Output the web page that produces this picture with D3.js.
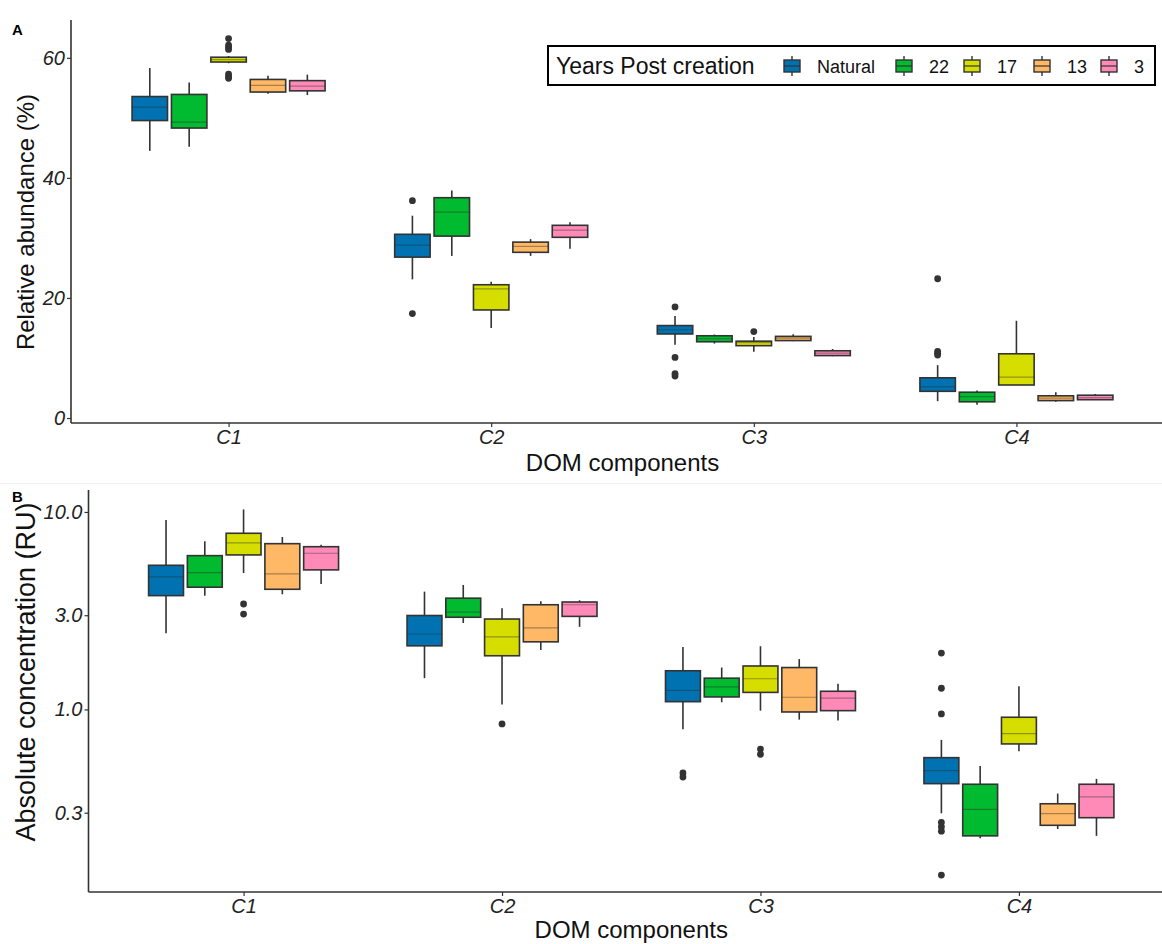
<!DOCTYPE html>
<html>
<head>
<meta charset="utf-8">
<script src="https://cdn.jsdelivr.net/npm/d3@7"></script>
<style>
  body { margin: 0; background: #fff; }
  svg { display: block; }
  text { font-family: "Liberation Sans", Arial, Helvetica, sans-serif; }
</style>
</head>
<body>
<svg id="chart" width="1162" height="944"></svg>
<script>
// ---------- data ----------
const categories = ["C1", "C2", "C3", "C4"];
const groups = ["Natural", "22", "17", "13", "3"];
const groupColors = ["#0072B2", "#00BA2F", "#D6DE00", "#FFB865", "#FF8AB8"];

// Panel A: relative abundance (%), rows = categories, cols = groups
const relLow  = [[44.5, 45.2, 59.1, 54.0, 53.8], [23.1, 27.0, 15.0, 27.0, 28.2], [12.2, 12.4, 11.05, 12.8, 10.3], [2.8, 2.2, 5.5, 2.7, 3.0]];
const relQ1   = [[49.55, 48.3, 59.3, 54.3, 54.5], [26.8, 30.3, 18.0, 27.6, 30.1], [14.0, 12.7, 12.05, 12.9, 10.4], [4.45, 2.7, 5.5, 2.9, 3.05]];
const relMed  = [[51.8, 49.3, 59.7, 55.4, 55.3], [28.8, 34.3, 21.5, 28.6, 31.3], [14.7, 13.2, 12.55, 13.3, 10.8], [5.2, 3.55, 6.8, 3.3, 3.4]];
const relQ3   = [[53.55, 53.9, 60.1, 56.4, 56.2], [30.6, 36.7, 22.2, 29.3, 32.1], [15.4, 13.7, 12.8, 13.6, 11.2], [6.7, 4.3, 10.7, 3.7, 3.8]];
const relHigh = [[58.3, 55.9, 60.3, 57.0, 57.2], [33.7, 37.9, 22.7, 29.8, 32.6], [17.0, 13.9, 13.5, 13.95, 11.5], [8.8, 4.6, 16.2, 4.3, 4.0]];
// outliers: [category index, group index, value]
const relOutliers = [
  [0, 2, 63.2], [0, 2, 62.1], [0, 2, 61.7], [0, 2, 61.4], [0, 2, 57.3], [0, 2, 56.9], [0, 2, 56.6],
  [1, 0, 36.2], [1, 0, 17.4],
  [2, 0, 18.5], [2, 0, 10.1], [2, 0, 7.4], [2, 0, 7.0], [2, 2, 14.4],
  [3, 0, 23.2], [3, 0, 11.1], [3, 0, 10.8], [3, 0, 10.5]
];
const relTicks = [0, 20, 40, 60];

// Panel B: absolute concentration (RU), log scale
const absLow  = [[2.43, 3.77, 4.91, 3.83, 4.32], [1.44, 2.74, 1.06, 2.00, 2.62], [0.794, 1.087, 0.986, 0.888, 0.878], [0.298, 0.223, 0.614, 0.248, 0.229]];
const absQ1   = [[3.77, 4.16, 6.06, 4.06, 5.09], [2.10, 2.93, 1.87, 2.20, 2.96], [1.095, 1.157, 1.22, 0.971, 0.986], [0.421, 0.229, 0.669, 0.259, 0.283]];
const absMed  = [[4.69, 4.93, 6.97, 4.86, 6.18], [2.41, 3.11, 2.33, 2.59, 3.39], [1.25, 1.30, 1.43, 1.153, 1.14], [0.490, 0.312, 0.754, 0.297, 0.361]];
const absQ3   = [[5.37, 6.01, 7.80, 6.91, 6.67], [2.99, 3.66, 2.87, 3.39, 3.50], [1.57, 1.44, 1.66, 1.63, 1.236], [0.570, 0.418, 0.913, 0.333, 0.418]];
const absHigh = [[9.11, 7.11, 10.3, 7.47, 6.83], [3.95, 4.27, 3.25, 3.53, 3.57], [2.07, 1.63, 2.09, 1.80, 1.35], [0.701, 0.517, 1.31, 0.375, 0.445]];
const absOutliers = [
  [0, 2, 3.42], [0, 2, 3.04],
  [1, 2, 0.845],
  [2, 0, 0.477], [2, 0, 0.455], [2, 2, 0.63], [2, 2, 0.593],
  [3, 0, 1.93], [3, 0, 1.28], [3, 0, 0.949], [3, 0, 0.268], [3, 0, 0.255], [3, 0, 0.242], [3, 0, 0.145]
];
const absTicks = [0.3, 1.0, 3.0, 10.0];

const legendTitle = "Years Post creation";
const xTitle = "DOM components";
const yTitleA = "Relative abundance (%)";
const yTitleB = "Absolute concentration (RU)";

// ---------- drawing ----------
const svg = d3.select("#chart");
const ink = "#333333";

function drawPanel(cfg) {
  const g = svg.append("g");
  const x = d3.scaleLinear().domain([0.4, 4.6]).range([cfg.left, cfg.right]);
  const step = x(2) - x(1);
  const dodge = 0.15 * step;
  const halfW = 0.9 * dodge / 2;
  const y = cfg.y;

  // boxes
  categories.forEach((c, ci) => {
    groups.forEach((grp, gi) => {
      const cx = x(ci + 1) + (gi - 2) * dodge;
      const lo = cfg.low[ci][gi], q1 = cfg.q1[ci][gi], md = cfg.med[ci][gi], q3 = cfg.q3[ci][gi], hi = cfg.high[ci][gi];
      const bg = g.append("g");
      bg.append("line").attr("x1", cx).attr("x2", cx).attr("y1", y(q3)).attr("y2", y(hi))
        .attr("stroke", ink).attr("stroke-width", 1.6);
      bg.append("line").attr("x1", cx).attr("x2", cx).attr("y1", y(q1)).attr("y2", y(lo))
        .attr("stroke", ink).attr("stroke-width", 1.6);
      bg.append("rect").attr("x", cx - halfW).attr("width", 2 * halfW)
        .attr("y", y(q3)).attr("height", Math.max(0.5, y(q1) - y(q3)))
        .attr("fill", groupColors[gi]).attr("stroke", ink).attr("stroke-width", 1.6);
      bg.append("line").attr("x1", cx - halfW).attr("x2", cx + halfW).attr("y1", y(md)).attr("y2", y(md))
        .attr("stroke", "rgba(40,40,40,0.4)").attr("stroke-width", 1.2);
    });
  });
  // outliers
  cfg.outliers.forEach(([ci, gi, v]) => {
    g.append("circle").attr("cx", x(ci + 1) + (gi - 2) * dodge).attr("cy", y(v)).attr("r", 3.4).attr("fill", ink);
  });

  // axes
  const yAxis = d3.axisLeft(y).tickValues(cfg.ticks).tickFormat(cfg.fmt).tickSize(4).tickPadding(2);
  const ya = g.append("g").attr("transform", `translate(${cfg.left},0)`).call(yAxis);
  ya.select(".domain").remove();
  ya.selectAll(".tick line").attr("stroke", ink).attr("stroke-width", 1.2);
  ya.selectAll(".tick text").attr("fill", "#222").attr("font-size", cfg.tickFont).attr("font-style", "italic");
  g.append("line").attr("x1", cfg.left).attr("x2", cfg.left).attr("y1", cfg.top).attr("y2", cfg.bottom)
    .attr("stroke", ink).attr("stroke-width", 1.6);

  const xAxis = d3.axisBottom(x).tickValues([1, 2, 3, 4]).tickFormat(d => categories[d - 1]).tickSize(4).tickPadding(3);
  const xa = g.append("g").attr("transform", `translate(0,${cfg.bottom})`).call(xAxis);
  xa.select(".domain").remove();
  xa.selectAll(".tick line").attr("stroke", ink).attr("stroke-width", 1.2);
  xa.selectAll(".tick text").attr("fill", "#222").attr("font-size", cfg.tickFont).attr("font-style", "italic");
  g.append("line").attr("x1", cfg.left).attr("x2", 1162).attr("y1", cfg.bottom).attr("y2", cfg.bottom)
    .attr("stroke", ink).attr("stroke-width", 1.6);

  // titles
  g.append("text").attr("x", (cfg.left + cfg.right) / 2).attr("y", cfg.xTitleY)
    .attr("text-anchor", "middle").attr("font-size", 24).attr("fill", "#111").text(xTitle);
  g.append("text").attr("transform", `translate(${cfg.yTitleX},${cfg.yTitleY}) rotate(-90)`)
    .attr("text-anchor", "middle").attr("font-size", cfg.yTitleFont).attr("fill", "#111").text(cfg.yTitle);
  g.append("text").attr("x", 12).attr("y", cfg.labelY).attr("font-size", 15).attr("font-weight", "bold")
    .attr("fill", "#000").text(cfg.label);
}

// Panel A
drawPanel({
  left: 71, right: 1174, top: 20, bottom: 423,
  y: d3.scaleLinear().domain([-0.83, 66.3]).range([423, 20]),
  low: relLow, q1: relQ1, med: relMed, q3: relQ3, high: relHigh, outliers: relOutliers,
  ticks: relTicks, fmt: d3.format("d"), tickFont: 20,
  xTitleY: 471, yTitle: yTitleA, yTitleX: 34, yTitleY: 222, yTitleFont: 24, label: "A", labelY: 35
});

// separator
svg.append("line").attr("x1", 0).attr("x2", 1162).attr("y1", 483.5).attr("y2", 483.5)
  .attr("stroke", "#f0f0f0").attr("stroke-width", 1);

// Panel B
drawPanel({
  left: 88.5, right: 1174, top: 490, bottom: 892,
  y: d3.scaleLog().domain([0.119, 12.92]).range([892, 490]),
  low: absLow, q1: absQ1, med: absMed, q3: absQ3, high: absHigh, outliers: absOutliers,
  ticks: absTicks, fmt: d3.format(".1f"), tickFont: 20,
  xTitleY: 938, yTitle: yTitleB, yTitleX: 35, yTitleY: 672, yTitleFont: 27, label: "B", labelY: 502
});

// Legend
const leg = svg.append("g");
leg.append("rect").attr("x", 548).attr("y", 46).attr("width", 607).attr("height", 39)
  .attr("fill", "#fff").attr("stroke", "#000").attr("stroke-width", 2);
leg.append("text").attr("x", 556).attr("y", 74).attr("font-size", 23).attr("fill", "#111").text(legendTitle);
const keyX = [783, 895, 963, 1033, 1100];
groups.forEach((grp, gi) => {
  const kx = keyX[gi], cy = 66, w = 18;
  const k = leg.append("g");
  k.append("line").attr("x1", kx + w / 2).attr("x2", kx + w / 2).attr("y1", cy - 10).attr("y2", cy + 10)
    .attr("stroke", ink).attr("stroke-width", 1.4);
  k.append("rect").attr("x", kx + 1).attr("y", cy - 6).attr("width", w - 2).attr("height", 12)
    .attr("fill", groupColors[gi]).attr("stroke", ink).attr("stroke-width", 1.4);
  k.append("line").attr("x1", kx + 1).attr("x2", kx + w - 1).attr("y1", cy).attr("y2", cy)
    .attr("stroke", ink).attr("stroke-width", 1.2);
  leg.append("text").attr("x", kx + 34).attr("y", 73).attr("font-size", 18).attr("fill", "#111").text(grp);
});
</script>
</body>
</html>
